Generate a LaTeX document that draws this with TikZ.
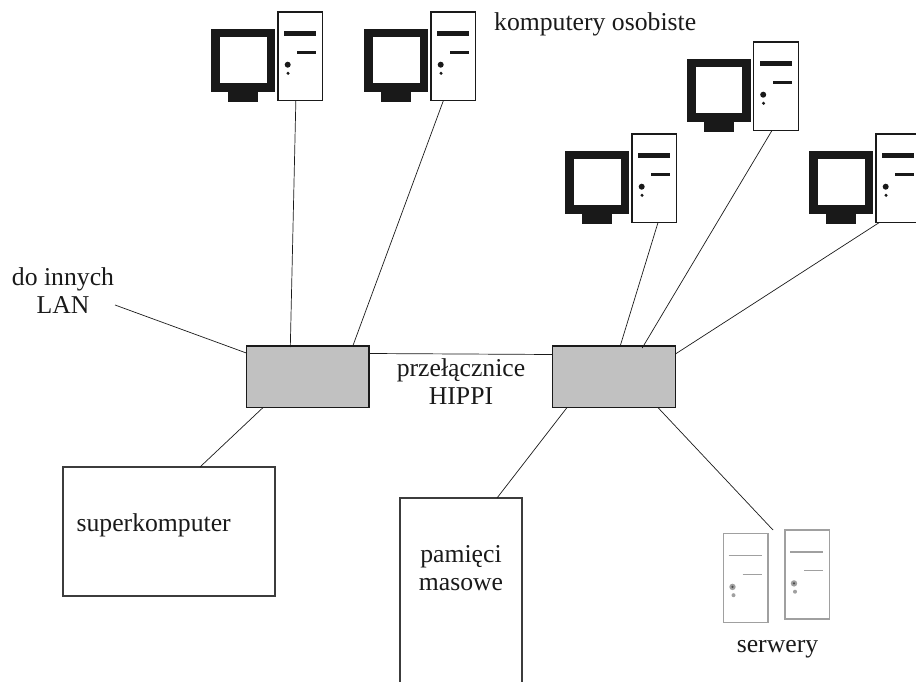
\documentclass[tikz,border=0pt]{standalone}
\usepackage{fontspec}
\setmainfont{Liberation Serif}
\usetikzlibrary{calc}
\definecolor{srv}{HTML}{A0A0A0}
\definecolor{ink}{HTML}{1A1A1A}
\tikzset{
  x=1pt,y=-1pt,
  link/.style={draw=ink,line width=0.7pt},
  switchbox/.style={draw=ink,line width=1.1pt,fill=black!24.5,minimum width=122.7pt,minimum height=61.3pt,inner sep=0pt,outer sep=0pt},
  plainbox/.style={draw=ink!85!white,line width=1.3pt,fill=white,inner sep=0pt,outer sep=0pt},
  towerbox/.style={draw=ink,line width=1.2pt,fill=white,minimum width=44.7pt,minimum height=88.7pt,inner sep=0pt,outer sep=0pt},
  serverbox/.style={draw=srv,line width=1.5pt,fill=white,minimum width=44.4pt,minimum height=89pt,inner sep=0pt,outer sep=0pt},
  lbl/.style={font=\fontsize{25.7}{28}\selectfont,text=ink,inner sep=0pt,align=center},
  pics/pc/.style={code={
    \fill[black!90] (-67,17) rectangle (-3,80);
    \fill[white] (-58,25) rectangle (-11.5,71);
    \fill[black!90] (-50,80) rectangle (-20,90);
    \node[towerbox,anchor=north west] (-tower) at (0,0) {};
    \fill[black!90] (6,19) rectangle (38,23.7);
    \fill[black!90] (19,39) rectangle (38,41.7);
    \fill[black!90] (9.7,52.7) circle (3);
    \fill[black!90] (10,61.3) circle (1.7);
  }},
  pics/srv/.style={code={
    \node[serverbox,anchor=north west] (-box) at (0,0) {};
    \draw[srv,line width=1.3pt] (5,22) -- (38.4,22);
    \draw[srv,line width=1.3pt] (19,40.7) -- (38.4,40.7);
    \fill[srv] (9,53.4) circle (3.2);
    \fill[black!70] (9,53.4) circle (1.2);
    \fill[srv] (10,61.7) circle (2);
  }}
}
\begin{document}
\begin{tikzpicture}
\useasboundingbox (0,0) rectangle (916,682);
\clip (0,0) rectangle (916,682);
\pic (p1) at (278,12) {pc};
\pic (p2) at (431,12) {pc};
\pic (p3) at (753.5,42) {pc};
\pic (p4) at (632,134) {pc};
\pic (p5) at (876,134) {pc};
\pic (s1) at (723.5,533.5) {srv};
\pic (s2) at (785,530) {srv};
\node[switchbox,anchor=north west] (sw1) at (246.3,346) {};
\node[switchbox,anchor=north west] (sw2) at (552.7,346) {};
\node[plainbox,minimum width=212pt,minimum height=129pt,anchor=north west] (super) at (63,467) {};
\node[plainbox,minimum width=122pt,minimum height=190pt,anchor=north west] (mem) at (400,498) {};
\coordinate (lan) at (115,305);
% connectors
\draw[link] (p1-tower.south) ++(-4.5,0) -- ($(sw1.north west)+(44,1)$);
\draw[link] ($(p2-tower.south)+(-10,0)$) -- ($(sw1.north west)+(106.5,0)$);
\draw[link] (lan) -- ($(sw1.north west)+(0,7)$);
\draw[link] ($(sw1.south west)+(17,0)$) -- ($(super.north west)+(137,0)$);
\draw[link] (sw1.north east |- 0,353.5) -- (sw2.north west |- 0,354.5);
\draw[link] ($(p4-tower.south)+(3.6,0)$) -- ($(sw2.north west)+(67.5,0)$);
\draw[link] ($(p3-tower.south)+(-4,0)$) -- ($(sw2.north west)+(89.5,2)$);
\draw[link] ($(p5-tower.south west)+(3,0)$) -- ($(sw2.north east)+(0,8)$);
\draw[link] ($(sw2.south west)+(14.5,0)$) -- ($(mem.north west)+(97,0)$);
\draw[link] ($(sw2.south west)+(105,0)$) -- ($(s2-box.north west)+(-12,0)$);
% labels
\node[lbl,anchor=base west] (t1) at (494,30.5) {komputery osobiste};
\node[lbl] (t2) at (63,291) {do innych\\LAN};
\node[lbl] (t3) at (461,382) {przełącznice\\HIPPI};
\node[lbl,anchor=base] (t4) at (153.7,531) {superkomputer};
\node[lbl] (t5) at (461,568) {pamięci\\masowe};
\node[lbl,anchor=base] (t6) at (777.5,652.7) {serwery};
\end{tikzpicture}
\end{document}
